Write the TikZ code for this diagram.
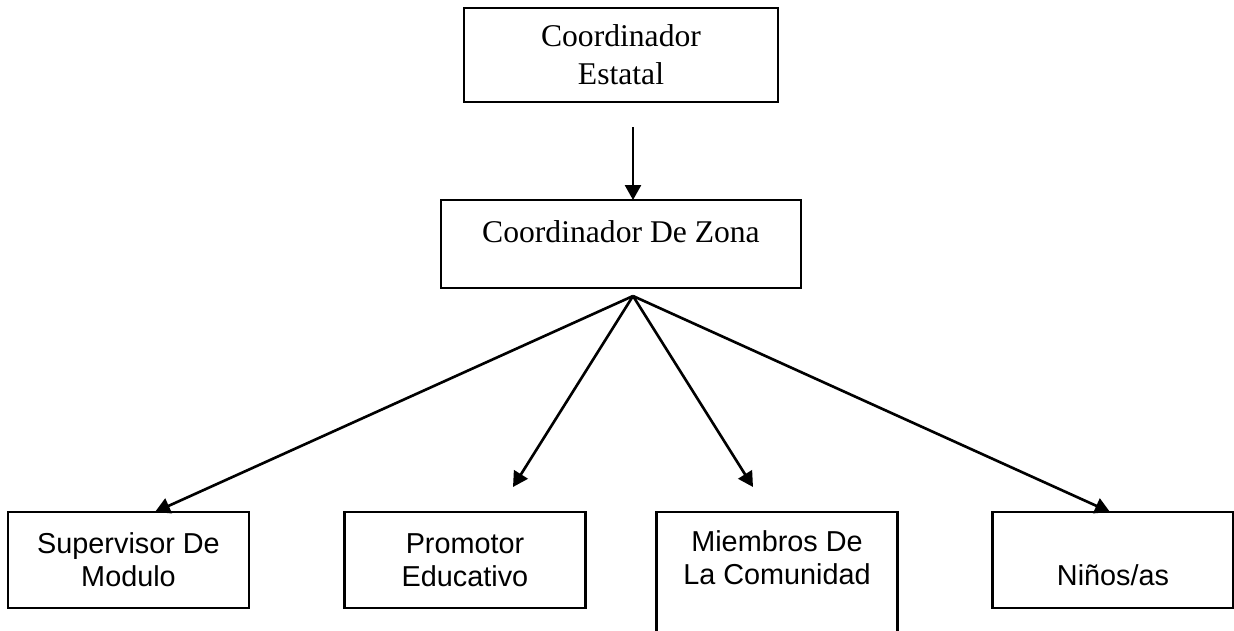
\documentclass[tikz,border=0pt]{standalone}
\usepackage{fontspec}
\setmainfont{Liberation Serif}
\newfontfamily\arialfont{Liberation Sans}
\usetikzlibrary{arrows.meta,positioning,calc}
\tikzstyle{every node}+=[inner sep=0mm,outer sep=0mm]
\tikzstyle{topbox}=[rectangle,draw,line width=1.3pt,align=center,font=\fontsize{18}{21.6}\selectfont]
\tikzstyle{lowbox}=[rectangle,draw,line width=1.3pt,align=center,minimum width=4.82cm,minimum height=1.92cm,font=\arialfont\fontsize{16.4}{18.9}\selectfont]
\tikzstyle{arr}=[line width=1.5pt,-{Triangle[length=0.3cm,width=0.32cm]}]

\begin{document}
\begin{tikzpicture}[x=0.02cm,y=-0.02cm]
\useasboundingbox (0,0) rectangle (1234,630);
\clip (0,0) rectangle (1234,630);

\node[topbox,minimum width=6.28cm,minimum height=1.88cm] (estatal) at (621,55) {Coordinador\\Estatal};
\node[topbox,minimum width=7.2cm,minimum height=1.76cm,text depth=0.51cm] (zona) at (621,244) {Coordinador De Zona};

\node[lowbox] (sup) at (128.5,560) {Supervisor De\\Modulo};
\node[lowbox] (prom) at (465,560) {Promotor\\Educativo};
\node[lowbox,minimum height=2.5cm] (miem) at (777,574.5) {Miembros De\\La Comunidad\\\mbox{}};
\node[lowbox,text height=1.01cm] (ninos) at (1113,560) {Niños/as};

\coordinate (vtop) at (633,127);
\coordinate (fan) at (633,296);
\coordinate (tipsup) at (155,512);
\coordinate (tipprom) at (513,487);
\coordinate (tipmiem) at (753,487);
\coordinate (tipninos) at (1110,512);

\draw[arr] (vtop) -- (vtop |- zona.north);
\draw[arr] (fan) -- (tipsup);
\draw[arr] (fan) -- (tipprom);
\draw[arr] (fan) -- (tipmiem);
\draw[arr] (fan) -- (tipninos);
\end{tikzpicture}
\end{document}
